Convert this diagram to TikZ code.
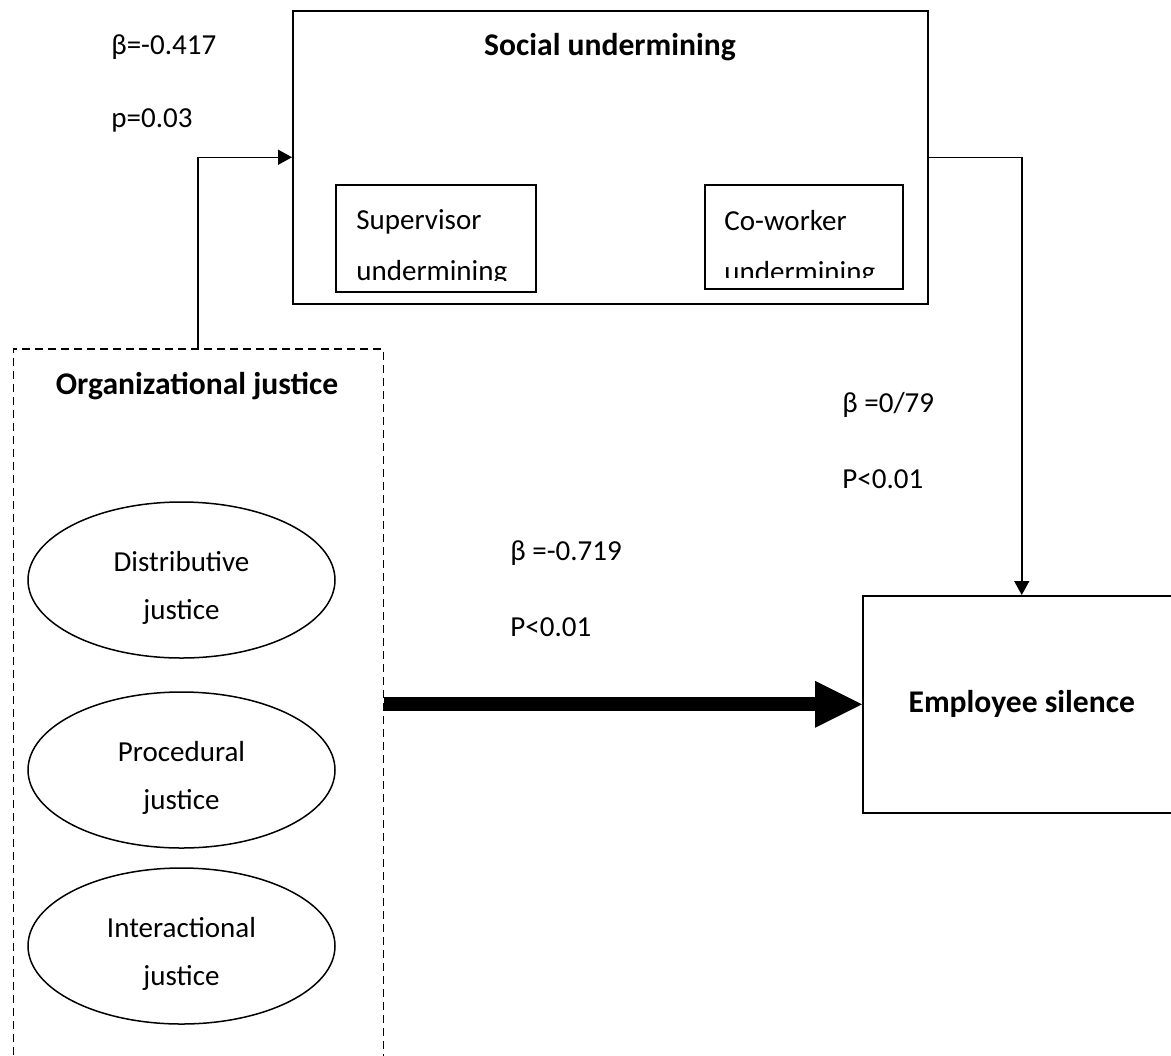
\documentclass[tikz,border=0pt]{standalone}
\usepackage{fontspec}
\setmainfont{Carlito}
\usetikzlibrary{arrows.meta,shapes.geometric}
\begin{document}
\begin{tikzpicture}[x=0.5pt, y=-0.5pt,
      every node/.style={font=\fontsize{14.5}{24}\selectfont, inner sep=0pt},
      heading/.style={font=\fontsize{15.8}{24}\selectfont\bfseries},
      frame/.style={draw, line width=0.75pt, anchor=north west},
      facet/.style={draw, ellipse, line width=0.75pt, minimum width=153.5pt, minimum height=78pt},
      subtext/.style={anchor=base west, align=left, font=\fontsize{14.5}{25.5}\selectfont},
      link/.style={line width=0.75pt, -{Triangle[length=7pt, width=7.5pt]}},
      mainlink/.style={line width=7pt, -{Triangle[length=23.5pt, width=23.5pt, line width=0pt]}}]
   \useasboundingbox (0,0) rectangle (1171,1055);
   \begin{scope}
      \node[frame, minimum width=317.5pt, minimum height=146.5pt] (soc) at (292,10) {};
      \node[heading] (soctitle) at (610,47) {Social undermining};
      \node[frame, minimum width=100pt, minimum height=53.5pt] (sup) at (335,184) {};
      \node[frame, minimum width=99pt, minimum height=52pt] (cow) at (704,184) {};
      \begin{scope}
         \clip (335,184) rectangle (536,280);
         \node[subtext] (suptext) at (356,280) {Supervisor\\undermining};
      \end{scope}
      \begin{scope}
         \clip (704,184) rectangle (902,277);
         \node[subtext] (cowtext) at (724,281) {Co-worker\\undermining};
      \end{scope}
      \node[frame, dashed, dash pattern=on 4pt off 2.5pt, minimum width=185pt, minimum height=360pt] (org) at (12.7,348) {};
      \node[heading] (ojtitle) at (197,386) {Organizational justice};
      \foreach \name/\y/\txt in {dist/580/Distributive, proc/770/Procedural, inter/946/Interactional} {
         \node[facet] (\name) at (181.5,\y) {};
         \node[align=center, yshift=-4pt] (\name text) at (\name.center) {\txt\\justice};
      }
      \node[frame, heading, minimum width=159pt, minimum height=108.5pt] (emp) at (862,595) {Employee silence};
      \node[anchor=west] (beta1) at (111,47) {β=-0.417};
      \node[anchor=west] (p1) at (111,120) {p=0.03};
      \node[anchor=west] (beta2) at (842,405) {β =0/79};
      \node[anchor=west] (p2) at (842,479) {P<0.01};
      \node[anchor=west] (beta3) at (510,553) {β =-0.719};
      \node[anchor=west] (p3) at (510,627) {P<0.01};
      \coordinate (ojx) at (198,0);
      \draw[link] (org.north -| ojx) |- (soc.west);
      \draw[link] (soc.east) -| (emp.north);
      \draw[mainlink] (org.east |- emp.west) -- (emp.west);
   \end{scope}
\end{tikzpicture}
\end{document}
